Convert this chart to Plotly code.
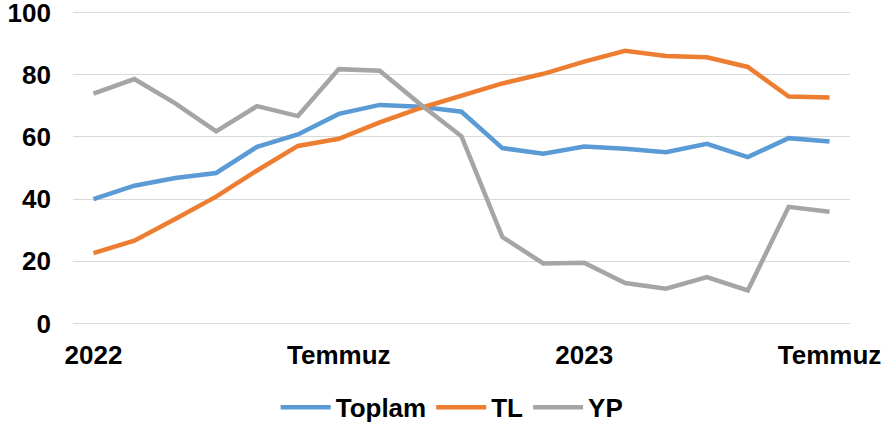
import plotly.graph_objects as go

months = list(range(19))
tick_vals = [0, 6, 12, 18]
tick_text = ["2022", "Temmuz", "2023", "Temmuz"]
y_ticks = [0, 20, 40, 60, 80, 100]

toplam = [40.0, 44.3, 46.8, 48.4, 56.8, 60.8, 67.4, 70.3, 69.7, 68.1,
          56.4, 54.6, 56.9, 56.2, 55.1, 57.8, 53.5, 59.6, 58.5]
tl = [22.6, 26.6, 33.6, 40.8, 49.2, 57.1, 59.4, 64.7, 69.3, 73.4,
      77.2, 80.3, 84.2, 87.7, 86.0, 85.6, 82.5, 73.0, 72.7]
yp = [73.9, 78.6, 70.8, 61.8, 69.9, 66.7, 81.8, 81.3, 70.4, 60.2,
      27.8, 19.3, 19.5, 13.0, 11.2, 14.9, 10.6, 37.5, 35.9]

series = [("Toplam", toplam, "#5B9BD5"), ("TL", tl, "#ED7D31"), ("YP", yp, "#A5A5A5")]

FAM = "Liberation Sans, Arial, sans-serif"

fig = go.Figure()
for name, vals, color in series:
    fig.add_trace(go.Scatter(x=months, y=vals, mode="lines", name=name,
                             line=dict(color=color, width=4.5)))

fig.update_layout(
    width=884, height=425,
    margin=dict(l=73, r=34, t=11, b=100, autoexpand=False),
    paper_bgcolor="white", plot_bgcolor="white",
    font=dict(family=FAM, size=26, color="#000000"),
    showlegend=True,
    legend=dict(orientation="h", x=0.488, xanchor="center", y=-0.262, yanchor="middle",
                font=dict(family=FAM, size=26, color="#000", weight="bold"),
                itemwidth=50, tracegroupgap=0, bgcolor="rgba(0,0,0,0)"),
    xaxis=dict(range=[-0.5, 18.5], tickmode="array", tickvals=tick_vals, ticktext=tick_text,
               showgrid=False, zeroline=False, showline=False, ticks="",
               ticklabelstandoff=12, automargin=False, ticklabeloverflow="allow",
               tickfont=dict(family=FAM, size=26, color="#000", weight="bold")),
    yaxis=dict(range=[-0.5, 100.5], tickmode="array", tickvals=y_ticks,
               showgrid=True, gridcolor="#D9D9D9", gridwidth=1.3, zeroline=False,
               showline=False, ticks="", ticklabelstandoff=21, automargin=False,
               ticklabeloverflow="allow",
               tickfont=dict(family=FAM, size=26, color="#000", weight="bold")),
)

fig.write_html("out.html", config={"displayModeBar": False},
               post_script="document.body.style.margin='0';")
